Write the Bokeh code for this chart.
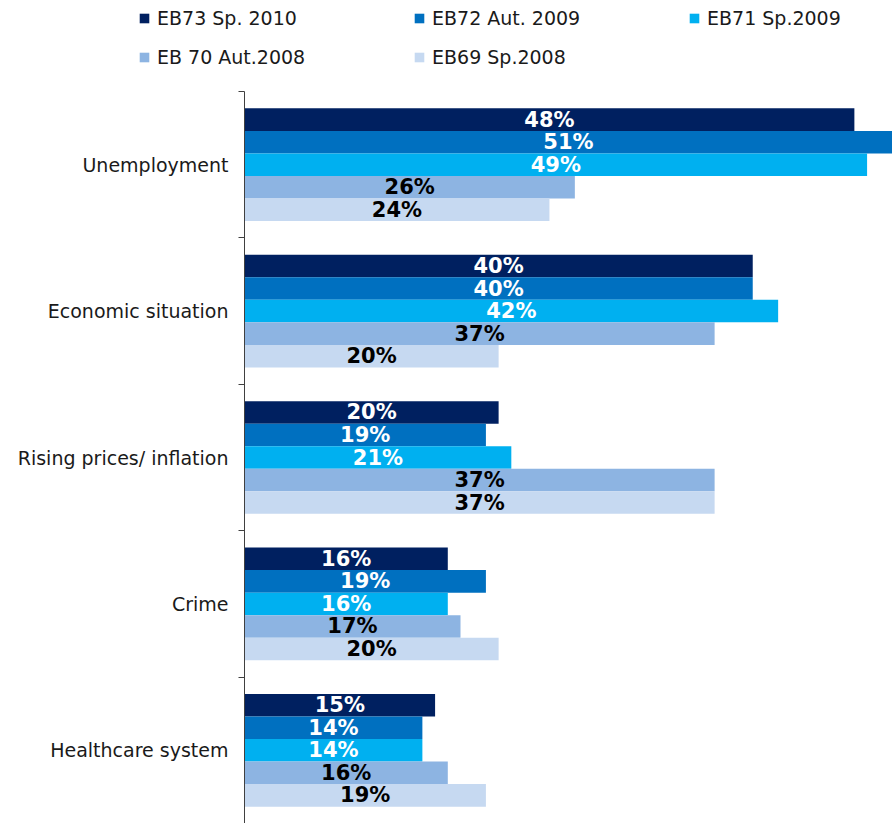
from bokeh.plotting import figure
from bokeh.models import Range1d, FixedTicker, Legend, LegendItem, ColumnDataSource
from bokeh.core.properties import value
from bokeh.embed import file_html
from bokeh.resources import INLINE

categories = ["Unemployment", "Economic situation", "Rising prices/ inflation", "Crime", "Healthcare system"]
series_names = ["EB73 Sp. 2010", "EB72 Aut. 2009", "EB71 Sp.2009", "EB 70 Aut.2008", "EB69 Sp.2008"]
eb73 = [48, 40, 20, 16, 15]
eb72 = [51, 40, 19, 19, 14]
eb71 = [49, 42, 21, 16, 14]
eb70 = [26, 37, 37, 17, 16]
eb69 = [24, 20, 37, 20, 19]
series_values = [eb73, eb72, eb71, eb70, eb69]
colors = ["#002060", "#0070C0", "#00B0F0", "#8DB4E2", "#C6D9F1"]
label_colors = ["white", "white", "white", "black", "black"]

FONT = "DejaVu Sans"
n = len(categories)
bar_h = 0.154
offsets = [2 * bar_h, bar_h, 0.0, -bar_h, -2 * bar_h]

# layout (pixels)
W, H = 892, 823
TOP, LEFT = 91, 244
X_MAX = 51
x_start = -LEFT * X_MAX / (W - LEFT)      # leaves room on the left for the axis labels
y_end = n * H / (H - TOP)                 # leaves room on top for the legend

p = figure(width=W, height=H, output_backend="svg", toolbar_location=None,
           x_range=Range1d(x_start, X_MAX), y_range=Range1d(0, y_end),
           min_border_left=0, min_border_right=0, min_border_top=0, min_border_bottom=0)
p.outline_line_color = None
p.xgrid.visible = False
p.ygrid.visible = False
p.xaxis.visible = False

legend_items = []
for s, vals in enumerate(series_values):
    ys = [n - 0.5 - i + offsets[s] for i in range(n)]
    src = ColumnDataSource(dict(y=ys, right=vals,
                                mid=[v / 2 for v in vals],
                                txt=[f"{v}%" for v in vals]))
    r = p.hbar(y="y", right="right", left=0, height=bar_h, source=src,
               fill_color=colors[s], line_color=None)
    p.text(x="mid", y="y", text="txt", source=src, text_align="center",
           text_baseline="middle", text_color=label_colors[s],
           text_font=value(FONT), text_font_style="bold", text_font_size="21px")
    legend_items.append(LegendItem(label=series_names[s], renderers=[r]))

yax = p.yaxis[0]
yax.fixed_location = 0
yax.bounds = (0, n)
yax.ticker = FixedTicker(ticks=[n - 0.5 - i for i in range(n)],
                         minor_ticks=list(range(n + 1)))
yax.major_label_overrides = {n - 0.5 - i: c for i, c in enumerate(categories)}
yax.major_tick_out = 0
yax.major_tick_in = 0
yax.minor_tick_out = 6
yax.minor_tick_in = 0
yax.axis_line_color = "#404040"
yax.minor_tick_line_color = "#404040"
yax.major_label_standoff = 10
yax.major_label_text_font = FONT
yax.major_label_text_font_size = "19px"
yax.major_label_text_color = "#1a1a1a"

legend_h = 22 + 17 + 22
legend_top = 7
legend = Legend(items=legend_items, orientation="horizontal", ncols=3,
                location=(138, H - legend_top - legend_h),
                padding=0, margin=0, spacing=17,
                glyph_width=12, glyph_height=12, label_standoff=7,
                label_width=239, label_height=20,
                label_text_font=FONT, label_text_font_size="19px",
                label_text_color="#1a1a1a", border_line_color=None,
                background_fill_alpha=0)
p.add_layout(legend, "center")

open("out.html", "w").write(file_html(p, INLINE))
